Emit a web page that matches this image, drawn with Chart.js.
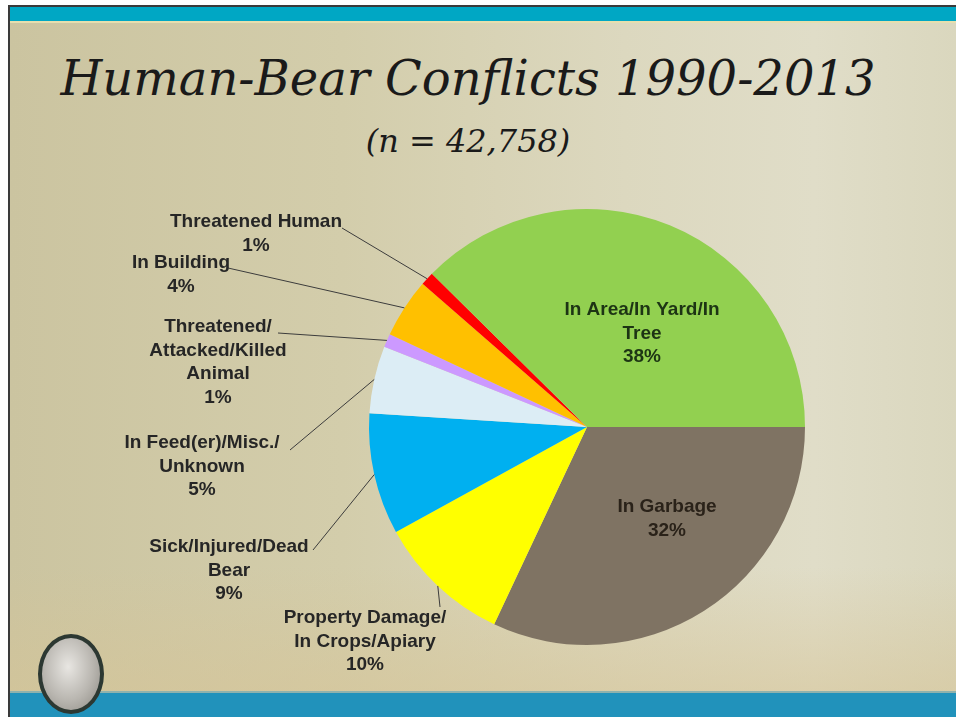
<!DOCTYPE html>
<html>
<head>
<meta charset="utf-8">
<script src="https://cdn.jsdelivr.net/npm/chart.js@4.4.1/dist/chart.umd.min.js"></script>
<style>
  body { margin: 0; background: #fff; width: 956px; height: 717px; overflow: hidden; position: relative; }
  .frame { position: absolute; left: 8px; top: 5px; right: 0; bottom: 0; border-top: 2px solid #3a3a3a; border-left: 2px solid #3a3a3a;
    background: linear-gradient(90deg, #cbc4a0 0%, #d3cdab 35%, #dcd8bf 65%, #e0ddc8 85%, #dad7be 100%); }
  .topbar { position: absolute; left: 0; right: 0; top: 0; height: 14px; background: #00a7c4; border-bottom: 2px solid #e6dfae; }
  .tint { position: absolute; left: 0; right: 0; top: 560px; height: 126px; background: linear-gradient(180deg, rgba(214,196,150,0) 0%, rgba(214,196,150,0.55) 100%); }
  .botbar { position: absolute; left: 0; right: 0; bottom: 0; height: 24px; background: #2192bb; border-top: 2px solid #8fb2ad; }
  .title { position: absolute; left: 0; width: 936px; top: 50px; text-align: center; font-family: "DejaVu Serif", serif; font-style: italic; font-size: 48px; color: #1a1a1a; }
  .sub { position: absolute; left: 0; width: 936px; top: 122px; text-align: center; font-family: "DejaVu Serif", serif; font-style: italic; font-size: 32px; color: #1a1a1a; }
  .logo { position: absolute; left: 38px; top: 634px; width: 58px; height: 72px; border-radius: 50%; border: 4px solid #2c3832;
    background: radial-gradient(ellipse at 45% 40%, #e8e6e2 0%, #b9b6b0 55%, #8a8780 100%); }
  canvas { position: absolute; left: 0; top: 0; }
</style>
</head>
<body>
<div class="frame">
  <div class="topbar"></div>
  <div class="tint"></div>
  <div class="botbar"></div>
</div>
<div class="title">Human-Bear Conflicts 1990-2013</div>
<div class="sub">(n = 42,758)</div>
<div class="logo"></div>
<canvas id="pie" width="956" height="717"></canvas>
<script>
// slices, clockwise starting at 3 o'clock
const categories = ["In Garbage", "Property Damage/In Crops/Apiary", "Sick/Injured/Dead Bear",
  "In Feed(er)/Misc./Unknown", "Threatened/Attacked/Killed Animal", "In Building",
  "Threatened Human", "In Area/In Yard/In Tree"];
const percents = [32, 10, 9, 5, 1, 4.4, 1, 37.6];
const sliceColors = ["#7f7363", "#ffff00", "#00b0f0", "#dcedf5", "#cc99ff", "#ffc000", "#ff0000", "#92d050"];

// how each category label is wrapped on the slide
const labelLines = [["In Garbage"], ["Property Damage/", "In Crops/Apiary"], ["Sick/Injured/Dead", "Bear"],
  ["In Feed(er)/Misc./", "Unknown"], ["Threatened/", "Attacked/Killed", "Animal"], ["In Building"],
  ["Threatened Human"], ["In Area/In Yard/In", "Tree"]];
// label block placement: center x, first line y, leader start (null = inside slice)
const labelPos = [
  {x: 667, y: 507, lead: null},
  {x: 365, y: 618, lead: [440, 607]},
  {x: 229, y: 547, lead: [313, 550]},
  {x: 202, y: 443, lead: [290, 450]},
  {x: 218, y: 327, lead: [278, 333]},
  {x: 181, y: 263, lead: [228, 268]},
  {x: 256, y: 222, lead: [342, 228]},
  {x: 642, y: 310, lead: null}
];
const textColors = ["#2a2219", "#262626", "#262626", "#262626", "#262626", "#262626", "#262626", "#1d3414"];

const labelPlugin = {
  id: 'sliceLabels',
  afterDraw(chart) {
    const ctx = chart.ctx;
    const meta = chart.getDatasetMeta(0);
    const total = percents.reduce((a, b) => a + b, 0);
    ctx.save();
    meta.data.forEach((arc, i) => {
      const p = arc.getProps(['x', 'y', 'startAngle', 'endAngle', 'outerRadius'], true);
      const pos = labelPos[i];
      if (pos.lead) {
        const mid = (p.startAngle + p.endAngle) / 2;
        ctx.strokeStyle = '#3c3c3c';
        ctx.lineWidth = 1;
        ctx.beginPath();
        ctx.moveTo(pos.lead[0], pos.lead[1]);
        ctx.lineTo(p.x + Math.cos(mid) * p.outerRadius, p.y + Math.sin(mid) * p.outerRadius);
        ctx.stroke();
      }
      const lines = labelLines[i].concat([Math.round(percents[i] / total * 100) + '%']);
      ctx.font = 'bold 19px "Liberation Sans", Arial, sans-serif';
      ctx.fillStyle = textColors[i];
      ctx.textAlign = 'center';
      ctx.textBaseline = 'middle';
      lines.forEach((t, k) => ctx.fillText(t, pos.x, pos.y + k * 23.6));
    });
    ctx.restore();
  }
};

new Chart(document.getElementById('pie'), {
  type: 'pie',
  data: {
    labels: categories,
    datasets: [{ data: percents, backgroundColor: sliceColors, borderWidth: 0 }]
  },
  options: {
    responsive: false,
    animation: false,
    rotation: 90,
    layout: { padding: { left: 369, right: 151, top: 209, bottom: 72 } },
    plugins: { legend: { display: false }, tooltip: { enabled: false } }
  },
  plugins: [labelPlugin]
});
</script>
</body>
</html>
